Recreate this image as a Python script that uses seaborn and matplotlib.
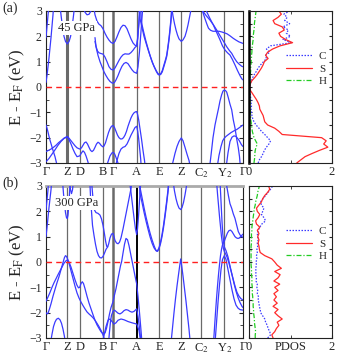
import numpy as np
import pandas as pd
import matplotlib
matplotlib.use("Agg")
import matplotlib.pyplot as plt
import seaborn as sns

# ---------------- data ----------------
KPTS = [0, 21.3, 33.7, 56.7, 67, 90.7, 113.3, 135.3, 155.3, 178.3, 197]
KLABELS = ['Γ', 'Z', 'D', 'B', 'Γ', 'A', 'E', 'Z', 'C$_2$', 'Y$_2$', 'Γ']

# panel (a) 45 GPa bands : (k, E) points
A_BANDS = [
    [(0,0.18),(1,0.45),(2,0.8),(3,1.15),(4,1.55),(5,1.95),(6,2.4),(7,2.85),(7.6,3.2)],
    [(0,1.95),(0.8,2.3),(1.6,2.65),(2.4,3.0),(2.8,3.2)],
    [(14,3.2),(15.3,2.75),(16.6,2.35),(18,2.0),(19.5,1.8),(21.3,1.7),(23.1,1.8),(24.6,2.0),(26,2.35),(27.3,2.75),(28.6,3.2)],
    [(37,3.2),(39,2.95),(41,2.85),(43,2.87),(45,3.0),(46.5,3.2)],
    [(47.5,3.2),(49,2.85),(51,2.6),(53,2.48),(55,2.42),(57,2.3),(59,2.12),(61,1.97),(63,1.85),(65,1.76),(67,1.72),(69,1.8),(71,1.98),(73,2.18),(75,2.35),(77,2.44),(79,2.42),(81,2.3),(83,2.1),(85,1.9),(87,1.74),(89,1.65),(90.7,1.62),(91.7,1.9),(92.7,2.4),(93.7,2.9),(94.5,3.2)],
    [(49,1.95),(50,1.6),(51.5,1.42),(53,1.35),(55,1.32),(57,1.3),(59,1.18),(61,1.0),(63,0.8),(65,0.7),(67,0.67),(69,0.75),(71,0.9),(73,1.05),(75,1.18),(77,1.27),(79,1.31),(81,1.3),(83,1.3),(85,1.36),(87,1.45),(89,1.56),(90.7,1.62),(91.8,2.0),(92.8,2.5),(93.6,3.2)],
    [(49,1.8),(50.5,1.5),(52,1.25),(54,1.0),(56,0.8),(58,0.6),(60,0.45),(62,0.32),(64,0.22),(66,0.16),(67,0.15),(68.5,0.18),(70,0.28),(72,0.45),(74,0.65),(76,0.82),(78,0.93),(80,0.97),(82,0.92),(84,0.8),(86,0.68),(88,0.59),(90.7,0.54),(92,0.8),(93.5,1.4),(95,2.2),(96.5,3.0),(97,3.2)],
    [(93.0,3.2),(94,2.7),(96,2.35),(98,2.0),(100.7,1.65),(102.5,1.42),(104.5,1.18),(106.5,0.95),(108.5,0.77),(110.5,0.6),(112,0.5),(113.3,0.47),(114.8,0.5),(116.3,0.6),(118,0.82),(119.5,1.02),(120.7,1.2),(122,1.55),(123,1.85),(124,2.2),(125,2.6),(125.8,3.0),(126.2,3.2)],
    [(94.5,3.2),(95.5,2.55),(97.5,2.2),(100,1.8),(102,1.52),(104,1.25),(106,1.02),(108,0.82),(110,0.66),(111.8,0.54),(113.3,0.49),(114.8,0.53),(116.3,0.65),(118,0.88),(119.5,1.08),(120.7,1.26),(122,1.62),(123,1.93),(124,2.3),(125,2.7),(125.7,3.2)],
    [(125.5,3.2),(127,2.8),(128.5,2.5),(130,2.25),(131.5,2.05),(133,1.9),(135.3,1.8),(137,1.86),(139,2.0),(140.5,2.2),(142,2.45),(143.5,2.75),(145,3.05),(145.5,3.2)],
    [(155,3.2),(156.5,3.0),(158.5,2.75),(160.7,2.5),(162.5,2.32),(164.5,2.24),(167,2.2),(170,2.2),(173,2.2),(176,2.17),(178.3,2.14),(181,2.1),(184,2.02),(187.3,1.92),(190,1.85),(193,1.78),(197,1.72)],
    [(156.5,3.2),(157.3,2.97),(160.5,2.8),(164,2.64),(167.5,2.45),(170.7,2.25),(173.2,2.08),(175.7,1.92),(178.3,1.75),(180.7,1.59),(183.2,1.45),(185.7,1.33),(188.2,1.15),(190.7,1.0),(193.2,0.9),(195.7,0.82),(197,0.8)],
    [(159.5,3.2),(160.7,2.97),(164,2.7),(167.3,2.45),(170.7,2.15),(174,1.86),(176.5,1.62),(179,1.46),(181.5,1.35),(184,1.26),(186.5,1.08),(189,0.87),(191.5,0.65),(194,0.45),(195.7,0.33),(197,0.28)],
    [(0,-1.5),(1,-1.62),(2,-1.78),(3,-1.95),(4,-2.1),(5.5,-2.3),(7,-2.5),(9,-2.75),(10.5,-3.0),(11,-3.2)],
    [(0,-2.55),(2.5,-2.5),(5,-2.45),(7.5,-2.38),(10,-2.3),(12.5,-2.2),(15,-2.12),(18,-2.02),(21.3,-1.95),(23,-2.02),(25,-2.12),(27,-2.22),(29,-2.32),(31,-2.4),(33.7,-2.45),(35.5,-2.4),(37,-2.3),(38.5,-2.2),(40,-2.17),(41.5,-2.25),(43,-2.38),(44.5,-2.5),(46,-2.55),(47.5,-2.5),(49,-2.38),(50.5,-2.25),(52,-2.18),(53.5,-2.22),(55,-2.3),(56.7,-2.36),(58,-2.33),(59.5,-2.2),(61,-2.0),(62.5,-1.8),(64,-1.65),(65.5,-1.55),(67,-1.52),(68.5,-1.6),(70,-1.75),(71.5,-1.9),(73,-2.0),(74.5,-2.05),(76,-2.05),(77.5,-2.0),(79,-1.9),(80.5,-1.75),(82,-1.55),(83.5,-1.38),(85,-1.22),(86.5,-1.1),(88,-1.02),(89.5,-0.98),(90.7,-0.97),(91.7,-1.1),(92.7,-1.3),(94,-1.65),(95.5,-2.05),(97,-2.5),(98.5,-2.9),(99.3,-3.2)],
    [(0,-2.95),(3,-2.82),(6,-2.65),(9,-2.48),(12,-2.3),(15,-2.15),(18,-2.03),(21.3,-1.97),(23,-2.08),(25,-2.25),(27,-2.45),(29,-2.62),(31,-2.75),(33.7,-2.72),(35.5,-2.6),(37,-2.52),(38.5,-2.58),(40,-2.72),(41.5,-2.9),(43,-3.1),(43.6,-3.2)],
    [(60,-3.2),(62,-2.95),(64,-2.72),(66,-2.6),(67,-2.58),(68.5,-2.63),(70,-2.78),(72,-3.0),(73,-3.2)],
    [(69,-3.2),(71,-2.9),(73,-2.62),(75,-2.45),(77,-2.38),(79,-2.35),(81,-2.25),(83,-2.08),(85,-1.9),(87,-1.75),(89,-1.6),(90.7,-1.55),(91.7,-1.75),(92.7,-2.05),(93.7,-2.45),(94.7,-2.85),(95.3,-3.2)],
    [(125.5,-3.2),(127,-2.95),(129,-2.62),(131,-2.35),(133,-2.15),(135.3,-2.01),(137,-2.12),(139,-2.38),(141,-2.65),(143,-2.9),(144.5,-3.2)],
    [(163.5,-3.2),(165,-2.7),(167,-2.0),(169,-1.5),(170.7,-1.18),(172.5,-0.85),(174,-0.55),(175.7,-0.3),(177,-0.16),(178.3,-0.12),(179.5,-0.14),(180.7,-0.2),(182.3,-0.42),(184,-0.68),(185.7,-0.9),(187.3,-1.3),(189,-1.62),(190.7,-2.05),(192.3,-2.4),(193.5,-2.75),(194.5,-3.2)],
    [(171,-3.2),(173,-2.7),(175,-2.35),(176.7,-2.12),(178.3,-2.02),(180,-1.95),(182.3,-1.88),(185,-1.8),(188,-1.73),(190.7,-1.68),(193.5,-1.6),(197,-1.5)],
    [(180,-3.2),(182,-2.6),(184,-2.15),(186,-1.98),(188,-1.93),(190,-1.95),(193,-2.1),(195.5,-2.28),(197,-2.35)],
]

# panel (b) 300 GPa bands
B_BANDS = [
    [(0,1.0),(1,1.35),(2,1.75),(3,2.15),(4,2.5),(5,2.85),(5.7,3.2)],
    [(0,2.05),(1,2.45),(2,2.85),(2.6,3.2)],
    [(16.5,3.2),(17.5,2.7),(18.5,2.3),(19.5,1.95),(20.5,1.75),(21.3,1.72),(22,1.85),(22.7,2.2),(23.5,2.7),(24.2,3.2)],
    [(23.5,3.2),(24.5,2.85),(25.5,2.7),(26.5,2.85),(27.5,3.2)],
    [(45.5,3.2),(47,2.5),(48.5,2.05),(50,1.95),(52,1.92),(54,1.85),(55.5,1.7),(57,1.45),(58.5,1.1),(59.7,0.8),(60.7,0.62),(61.7,0.6),(62.7,0.72),(64,0.95),(65.5,1.1),(67,1.13),(68,1.0),(69,0.85),(70.5,0.75),(72,0.72),(73.5,0.78),(75,0.95),(77,1.3),(79,1.7),(81,2.1),(83,2.5),(85,2.9),(86,3.2)],
    [(43.8,3.2),(44.5,2.6),(45.5,2.0),(46.5,1.45),(48,1.05),(49.5,0.7),(51,0.42),(52.5,0.25),(54,0.17),(55.5,0.16),(57,0.22),(58.5,0.35),(60,0.5),(61.7,0.6)],
    [(83.5,3.2),(85,2.75),(86.5,2.25),(88,1.75),(89.5,1.3),(90.7,1.08),(91.5,1.3),(92.5,1.8),(93.5,2.4),(94.5,3.0),(95,3.2)],
    [(92.5,3.2),(94,2.95),(96,2.55),(98,2.15),(100,1.78),(102,1.45),(104,1.15),(106,0.88),(108,0.65),(109.5,0.5),(110.5,0.43),(111.5,0.42),(113,0.52),(114.5,0.72),(116,1.0),(117.5,1.35),(119,1.78),(120.5,2.25),(122,2.75),(123,3.2)],
    [(93.5,3.2),(94,2.7),(96,2.35),(98,1.97),(100,1.62),(102,1.3),(104,1.0),(106,0.75),(108,0.56),(110,0.45),(111.5,0.44),(113,0.56),(114.5,0.78),(116,1.08),(117.5,1.45),(119,1.88),(120.5,2.35),(122,2.85),(122.8,3.2)],
    [(127,3.2),(128.5,2.8),(130,2.5),(131.5,2.28),(133,2.13),(134.7,2.07),(136,2.15),(137.5,2.35),(139,2.65),(140.5,3.0),(141,3.2)],
    [(170.5,3.2),(171.5,2.7),(172.5,2.25),(173.5,1.8),(174.5,1.4),(175.5,1.0),(176.5,0.72),(177.5,0.52),(178.3,0.42),(179.5,0.33),(181,0.2),(183,-0.05),(185,-0.35),(187,-0.65),(189,-0.95),(191,-1.2),(193,-1.35),(195,-1.45),(197,-1.5)],
    [(167.5,-3.2),(168.5,-2.6),(169.5,-2.0),(170.5,-1.45),(171.5,-0.95),(172.5,-0.5),(173.5,-0.1),(174.5,0.25),(175.5,0.5),(176.5,0.68),(178.3,0.82),(180,1.0),(181.5,1.15),(183,1.24),(184.5,1.26),(186,1.2),(187.5,1.1),(189,1.0),(190.5,0.95),(192,0.93),(193.5,0.95),(195,1.02),(197,1.1)],
    [(179.8,3.2),(180.7,3.0),(182.5,2.6),(184,2.3),(185.7,2.12),(187.3,1.9),(189,1.72),(190.7,1.45),(192.3,1.2),(194,1.07),(195.7,1.0),(197,0.98)],
    [(174,3.2),(175,2.4),(176,1.6),(176.8,1.1),(178.3,0.6),(180,0.45),(182,0.2),(184,-0.15),(186,-0.5),(188,-0.85),(190,-1.15),(192,-1.4),(194,-1.6),(196,-1.75),(197,-1.8)],
    [(169,-3.2),(170.5,-2.4),(172,-1.6),(173.5,-0.9),(175,-0.3),(176.5,0.1),(178.3,0.25),(180,0.1),(182,-0.3),(184,-0.7),(186,-1.1),(188,-1.45),(190,-1.7),(192,-1.82),(194,-1.88),(197,-1.9)],
    [(0,-2.0),(1,-2.05),(2,-2.02),(3.5,-1.85),(5,-1.65),(7,-1.35),(9,-1.08),(11,-0.82),(13,-0.58),(15,-0.3),(17,-0.02),(18.5,0.18),(19.5,0.25),(20.5,0.22),(22,0.08),(23.5,-0.12),(25,-0.35),(27,-0.65),(29,-0.95),(31,-1.22),(33,-1.42),(35,-1.58),(37,-1.72),(39,-1.85),(41,-1.97),(43,-2.05),(45,-2.12),(47,-2.2),(49,-2.3),(51,-2.42),(53,-2.55),(55,-2.7),(56.7,-2.85),(58,-3.0),(59,-3.2)],
    [(0,-1.55),(2,-1.38),(4,-1.2),(6,-1.0),(8,-0.82),(10,-0.66),(12,-0.5),(14,-0.35),(16,-0.2),(18,-0.05),(20,0.05),(21.3,0.08),(23,0.0),(25,-0.2),(27,-0.45),(29,-0.7),(31,-0.92),(32.5,-1.02),(33.7,-1.0),(35,-0.85),(36.3,-0.78),(37.5,-0.85),(39,-1.05),(41,-1.35),(43,-1.62),(45,-1.85),(47,-2.08),(49,-2.3),(51,-2.48),(53,-2.62),(55,-2.75),(57,-2.83),(59,-2.8),(60.5,-2.62),(62,-2.35),(63.5,-2.05),(65,-1.8),(67,-1.57),(68.5,-1.3),(70,-1.05),(71.5,-0.75),(73,-0.45),(74.5,-0.15),(75.7,0.03),(77,0.35),(78.5,0.7),(80,0.93),(81.5,0.88),(83,0.65),(84.5,0.35),(86,0.05),(87.5,-0.25),(89,-0.55),(90.7,-0.87),(92,-1.35),(93.5,-2.0),(95,-2.7),(96,-3.2)],
    [(4.5,-3.2),(6,-2.85),(7.5,-2.55),(9,-2.37),(10.5,-2.26),(12.3,-2.22),(14,-2.28),(15.5,-2.42),(17,-2.65),(18.5,-2.95),(19.3,-3.2)],
    [(62.5,-3.2),(63.5,-2.75),(64.5,-2.35),(65.5,-2.1),(67,-1.95),(68.5,-1.9),(70,-1.95),(72,-2.02),(74,-2.05),(76,-2.0),(78,-1.92),(80,-1.88),(82,-1.9),(84,-1.95),(86,-1.98),(88,-1.95),(90.7,-1.85),(92,-2.15),(93.5,-2.6),(94.5,-3.0),(95,-3.2)],
    [(56,-3.2),(58,-2.9),(60,-2.55),(62,-2.3),(64,-2.25),(66,-2.35),(68,-2.45),(70,-2.4),(72,-2.3),(75,-2.25),(78,-2.28),(82,-2.35),(86,-2.4),(90.7,-2.45),(93,-2.7),(95,-3.2)],
    [(125,-3.2),(126.5,-2.6),(128,-2.0),(129.5,-1.45),(131,-0.95),(132.5,-0.5),(133.7,-0.15),(134.7,0.12),(135.7,-0.15),(137,-0.55),(138.5,-1.05),(140,-1.55),(141.5,-2.1),(143,-2.65),(144.3,-3.2)],
]

# PDOS energy grid (eV) and species PDOS
E_GRID = [-3.0, -2.875, -2.75, -2.625, -2.5, -2.375, -2.25, -2.125, -2.0, -1.875,
          -1.75, -1.625, -1.5, -1.375, -1.25, -1.125, -1.0, -0.875, -0.75, -0.625,
          -0.5, -0.375, -0.25, -0.125, 0.0, 0.125, 0.25, 0.375, 0.5, 0.625,
          0.75, 0.875, 1.0, 1.125, 1.25, 1.375, 1.5, 1.625, 1.75, 1.875,
          2.0, 2.125, 2.25, 2.375, 2.5, 2.625, 2.75, 2.875, 3.0]

A_S = [1.15, 1.25, 1.35, 1.52, 1.70, 1.90, 1.80, 1.86, 1.75, 0.80,
       0.72, 0.62, 0.45, 0.38, 0.36, 0.34, 0.30, 0.26, 0.25, 0.22,
       0.18, 0.13, 0.08, 0.03, 0.01, 0.03, 0.07, 0.14, 0.20, 0.25,
       0.30, 0.34, 0.37, 0.46, 0.40, 0.45, 0.57, 0.75, 1.05, 0.88,
       0.76, 0.72, 0.85, 0.80, 0.62, 0.58, 0.70, 0.78, 0.72]
A_C = [0.22, 0.25, 0.30, 0.34, 0.37, 0.42, 0.48, 0.52, 0.45, 0.38,
       0.30, 0.24, 0.17, 0.12, 0.09, 0.07, 0.06, 0.05, 0.06, 0.05,
       0.04, 0.04, 0.03, 0.02, 0.01, 0.03, 0.06, 0.09, 0.13, 0.18,
       0.22, 0.28, 0.35, 0.42, 0.40, 0.50, 0.42, 0.52, 1.02, 0.82,
       1.00, 0.90, 0.95, 0.82, 0.98, 0.86, 0.92, 0.84, 0.98]
A_H = [0.12, 0.13, 0.14, 0.14, 0.15, 0.17, 0.20, 0.16, 0.12, 0.10,
       0.08, 0.07, 0.06, 0.05, 0.04, 0.04, 0.03, 0.03, 0.02, 0.02,
       0.02, 0.02, 0.01, 0.01, 0.01, 0.02, 0.02, 0.03, 0.03, 0.04,
       0.04, 0.05, 0.05, 0.06, 0.06, 0.07, 0.07, 0.08, 0.09, 0.10,
       0.10, 0.11, 0.12, 0.13, 0.13, 0.14, 0.15, 0.16, 0.17]

B_S = [0.58, 0.55, 0.62, 0.66, 0.72, 0.68, 0.80, 0.70, 0.62, 0.70,
       0.58, 0.68, 0.60, 0.66, 0.60, 0.70, 0.62, 0.74, 0.60, 0.70,
       0.75, 0.62, 0.78, 0.68, 0.62, 0.55, 0.38, 0.27, 0.25, 0.24,
       0.22, 0.24, 0.21, 0.24, 0.20, 0.26, 0.18, 0.16, 0.22, 0.26,
       0.20, 0.18, 0.24, 0.30, 0.33, 0.38, 0.45, 0.50, 0.47]
B_C = [0.45, 0.52, 0.50, 0.46, 0.44, 0.40, 0.38, 0.33, 0.28, 0.27,
       0.25, 0.24, 0.22, 0.23, 0.20, 0.21, 0.19, 0.20, 0.17, 0.18,
       0.16, 0.17, 0.16, 0.18, 0.17, 0.19, 0.18, 0.20, 0.19, 0.21,
       0.20, 0.22, 0.21, 0.20, 0.22, 0.26, 0.31, 0.40, 0.36, 0.30,
       0.33, 0.36, 0.30, 0.28, 0.34, 0.40, 0.46, 0.52, 0.57]
B_H = [0.15, 0.15, 0.16, 0.15, 0.14, 0.13, 0.13, 0.12, 0.11, 0.11,
       0.10, 0.10, 0.09, 0.09, 0.08, 0.08, 0.08, 0.07, 0.07, 0.07,
       0.06, 0.06, 0.06, 0.05, 0.05, 0.05, 0.05, 0.05, 0.05, 0.05,
       0.06, 0.06, 0.06, 0.06, 0.07, 0.07, 0.08, 0.09, 0.10, 0.11,
       0.12, 0.13, 0.15, 0.16, 0.18, 0.20, 0.21, 0.23, 0.25]

PRESSURES = ['45 GPa', '300 GPa']
PANEL_TAGS = ['(a)', '(b)']

# ---------------- style ----------------
sns.set_style('ticks')
plt.rcParams['font.family'] = ['Liberation Serif', 'DejaVu Serif']
plt.rcParams['mathtext.fontset'] = 'stix'
plt.rcParams['axes.linewidth'] = 0.8
plt.rcParams['axes.edgecolor'] = '#222222'

BLUE = '#3a3aff'
RED = '#ff2a2a'
GREEN = '#22cc22'
VGRAY = '#6a6a6a'

W, H = 338, 357
fig = plt.figure(figsize=(W / 100, H / 100), dpi=100)


def band_frame(bands):
    rows = []
    for i, pts in enumerate(bands):
        for k, e in pts:
            rows.append((i, k, e))
    return pd.DataFrame(rows, columns=['band', 'k', 'E'])


def ax_rect(x0, y0, x1, y1):
    return [x0 / W, 1 - y1 / H, (x1 - x0) / W, (y1 - y0) / H]


panels = [
    (11, 163, A_BANDS, (A_C, A_S, A_H)),
    (186, 338, B_BANDS, (B_C, B_S, B_H)),
]

for p, (ytop, ybot, bands, pdos) in enumerate(panels):
    ax = fig.add_axes(ax_rect(46, ytop, 243, ybot))
    axd = fig.add_axes(ax_rect(249, ytop, 332, ybot))

    # high-symmetry vertical lines
    for i, kv in enumerate(KPTS[1:-1], start=1):
        lw, col = 0.9, VGRAY
        if p == 0 and i == 1:
            lw = 2.2
        if i == 4:
            lw = 1.8
        if p == 1 and i == 5:
            lw, col = 1.4, 'black'
        ax.axvline(kv, color=col, lw=lw, zorder=1)

    df = band_frame(bands)
    sns.lineplot(data=df, x='k', y='E', units='band', estimator=None, sort=False,
                 color=BLUE, lw=0.9, ax=ax, legend=False, zorder=3)
    ax.axhline(0, color='#ff2020', lw=1.0, ls=(0, (4, 3)), zorder=4)

    ax.set_xlim(KPTS[0], KPTS[-1])
    ax.set_ylim(-3, 3)
    ax.set_xticks(KPTS)
    ax.set_xticklabels(KLABELS, fontsize=9)
    ax.set_yticks([-3, -2, -1, 0, 1, 2, 3])
    ax.set_yticks([-2.5, -1.5, -0.5, 0.5, 1.5, 2.5], minor=True)
    ax.tick_params(axis='x', length=0, pad=2)
    ax.tick_params(axis='y', which='both', direction='in', left=True, right=True,
                   labelsize=8.5, pad=3)
    ax.tick_params(axis='y', which='major', length=3)
    ax.tick_params(axis='y', which='minor', length=2)
    ax.set_xlabel('')
    ax.set_ylabel('E - E$_\\mathrm{F}$ (eV)', fontsize=12, labelpad=2)
    if p == 1:
        ax.spines['top'].set_color('#aaaaaa')
        ax.spines['top'].set_linewidth(2)

    ax.text(31, 2.33, PRESSURES[p], fontsize=9, ha='center', va='center', zorder=5,
            bbox=dict(facecolor='white', edgecolor='none', pad=1.0))
    fig.text(2 / W, 1 - (ytop - 3) / H, PANEL_TAGS[p], fontsize=10, va='center', ha='left')

    # PDOS
    c_vals, s_vals, h_vals = pdos
    sns.lineplot(x=c_vals, y=E_GRID, sort=False, estimator=None, color=BLUE, lw=0.9,
                 ls=(0, (1.2, 1.2)), ax=axd, label='C')
    sns.lineplot(x=s_vals, y=E_GRID, sort=False, estimator=None, color=RED, lw=0.9,
                 ls='-', ax=axd, label='S')
    sns.lineplot(x=h_vals, y=E_GRID, sort=False, estimator=None, color=GREEN, lw=0.9,
                 ls=(0, (4, 1.5, 1, 1.5)), ax=axd, label='H')
    axd.set_xlim(0, 2)
    axd.set_ylim(-3, 3)
    axd.set_xticks([0, 2])
    axd.set_xticks([1], minor=True)
    axd.set_xticklabels(['0', '2'], fontsize=9)
    axd.set_yticks(np.arange(-2.5, 3.0, 0.5))
    axd.set_yticklabels([])
    axd.tick_params(axis='y', which='both', direction='in', left=True, right=True, length=2.5)
    axd.tick_params(axis='x', which='both', direction='in', top=True, bottom=True, length=2.5, pad=2)
    axd.set_xlabel('')
    axd.set_ylabel('')
    if p == 0:
        axd.spines['left'].set_linewidth(1.8)
        axd.spines['left'].set_color('black')
    if p == 1:
        axd.text(0.5, -0.02, 'PDOS', transform=axd.transAxes, ha='center', va='top', fontsize=9)
    leg = axd.legend(loc='center left', bbox_to_anchor=(0.36, 0.62), frameon=False,
                     fontsize=8, handlelength=2.4, handletextpad=0.6, labelspacing=0.25,
                     borderpad=0.1)

fig.savefig('out.png', dpi=100)
